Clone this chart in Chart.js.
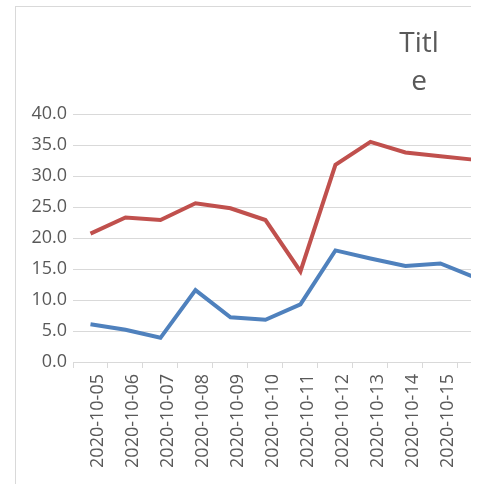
<!DOCTYPE html>
<html>
<head>
<meta charset="utf-8">
<script src="https://cdn.jsdelivr.net/npm/chart.js@4/dist/chart.umd.min.js"></script>
<style>
  html, body { margin: 0; padding: 0; background: #fff; width: 484px; height: 484px; overflow: hidden; }
  #frame {
    position: absolute; left: 15px; top: 6px;
    width: 455px; height: 478px;
    border-left: 1px solid #d9d9d9; border-top: 1px solid #d9d9d9;
    overflow: hidden;
  }
  #chart { position: absolute; left: 0; top: 0; }
  #title {
    position: absolute; left: 369px; top: 22px; width: 100px;
    text-align: center; font-family: "Open Sans", sans-serif;
    font-size: 28px; line-height: 38px; color: #595959;
  }
</style>
</head>
<body>
<div id="frame">
  <canvas id="chart" width="487" height="478"></canvas>
</div>
<div id="title">Titl<br>e</div>
<script>
// categories (the chart is cropped on the right, last one is mostly off-frame)
const dates = ['2020-10-05', '2020-10-06', '2020-10-07', '2020-10-08', '2020-10-09', '2020-10-10',
               '2020-10-11', '2020-10-12', '2020-10-13', '2020-10-14', '2020-10-15', '2020-10-16'];
const redSeries  = [20.7, 23.3, 22.9, 25.6, 24.8, 22.9, 14.6, 31.8, 35.5, 33.8, 33.2, 32.6];
const blueSeries = [6.1, 5.2, 3.9, 11.6, 7.2, 6.8, 9.3, 18.0, 16.7, 15.5, 15.9, 13.6];
const yTicks = [0, 5, 10, 15, 20, 25, 30, 35, 40];

const textColor = '#595959';
const gridColor = '#d9d9d9';
const font = { family: 'Open Sans', size: 18 };

new Chart(document.getElementById('chart').getContext('2d'), {
  type: 'line',
  data: {
    labels: dates,
    datasets: [
      { label: 'Series 2', data: redSeries, borderColor: '#c0504d', borderWidth: 4,
        pointRadius: 0, tension: 0, fill: false },
      { label: 'Series 1', data: blueSeries, borderColor: '#4f81bd', borderWidth: 4,
        pointRadius: 0, tension: 0, fill: false }
    ]
  },
  options: {
    responsive: false,
    animation: false,
    devicePixelRatio: 1,
    layout: { padding: { top: 107, right: 0, left: 0, bottom: 0 } },
    plugins: { legend: { display: false }, tooltip: { enabled: false }, title: { display: false } },
    scales: {
      x: {
        offset: true,
        grid: { offset: true, drawOnChartArea: false, color: gridColor, tickLength: 6 },
        border: { color: gridColor },
        ticks: { color: textColor, font: font, minRotation: 90, maxRotation: 90, autoSkip: false,
                 padding: 6, labelOffset: 7 },
        afterFit: s => { s.height = 123; }
      },
      y: {
        min: yTicks[0],
        max: yTicks[yTicks.length - 1],
        afterBuildTicks: s => { s.ticks = yTicks.map(v => ({ value: v })); },
        grid: { color: gridColor, drawTicks: false },
        border: { display: false },
        ticks: { color: textColor, font: font, padding: 6, callback: v => Number(v).toFixed(1) },
        afterFit: s => { s.width = 57; }
      }
    }
  }
});
</script>
</body>
</html>
